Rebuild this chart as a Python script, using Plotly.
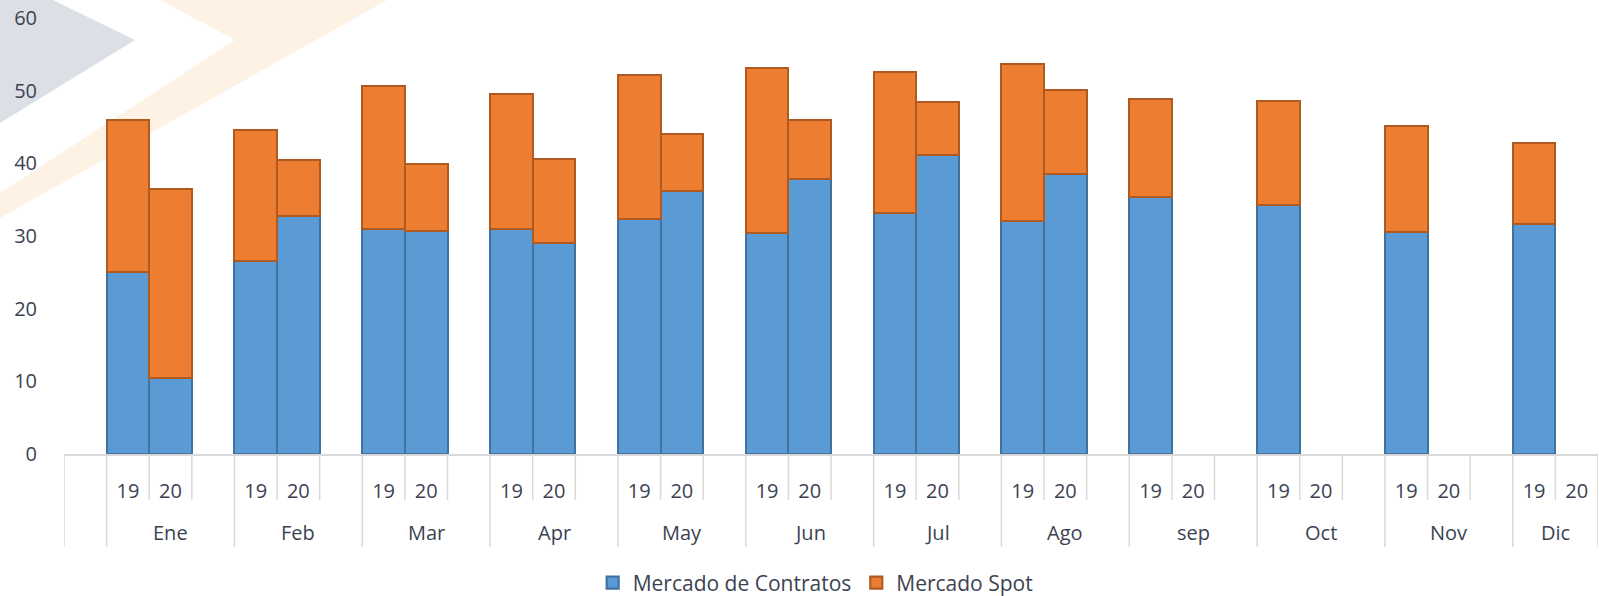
import plotly.graph_objects as go

months = ["Ene", "Feb", "Mar", "Apr", "May", "Jun", "Jul", "Ago", "sep", "Oct", "Nov", "Dic"]
years = ["19", "20"]
# totals and contract-market values (None = no data)
contratos_19 = [25.1, 26.5, 30.9, 31.0, 32.4, 30.4, 33.2, 32.1, 35.4, 34.3, 30.6, 31.6]
total_19 = [45.9, 44.6, 50.6, 49.5, 52.2, 53.1, 52.6, 53.7, 48.8, 48.6, 45.1, 42.8]
contratos_20 = [10.5, 32.7, 30.7, 29.1, 36.2, 37.9, 41.2, 38.5, None, None, None, None]
total_20 = [36.5, 40.5, 39.9, 40.6, 44.0, 45.9, 48.5, 50.1, None, None, None, None]
y_ticks = [0, 10, 20, 30, 40, 50, 60]

BLUE, BLUE_LINE = "#5B9BD5", "#41719C"
ORANGE, ORANGE_LINE = "#ED7D31", "#AE5A21"
TXT = "#3b4353"
GRID = "#d9d9d9"
FONT = "Open Sans"

# slot layout: slot 0 blank, then each month = [19, 20, blank]
xs, cont, spot, tickvals, ticktext = [], [], [], [], []
for m, mon in enumerate(months):
    for k, (c, t) in enumerate([(contratos_19[m], total_19[m]), (contratos_20[m], total_20[m])]):
        pos = 1 + 3 * m + k
        tickvals.append(pos)
        ticktext.append(years[k])
        xs.append(pos)
        cont.append(c)
        spot.append(None if t is None else round(t - c, 2))

fig = go.Figure()
fig.add_trace(go.Bar(x=xs, y=cont, name="Mercado de Contratos", width=1,
                     marker=dict(color=BLUE, line=dict(color=BLUE_LINE, width=2.2))))
fig.add_trace(go.Bar(x=xs, y=spot, name="Mercado Spot", width=1,
                     marker=dict(color=ORANGE, line=dict(color=ORANGE_LINE, width=2.2))))

n_slots = 3 * len(months)  # 36 slots: -0.5 .. 35.5
x_lo, x_hi = -0.5, n_slots - 0.5

# figure geometry (pixels) for decorations
W, H = 1599, 596
ml, mr, mt, mb = 64, 1, 18, 142
pw, ph = W - ml - mr, H - mt - mb

def px2paper(px, py):
    return (px - ml) / pw, (H - mb - py) / ph

def path(points):
    pts = [px2paper(x, y) for x, y in points]
    return "M " + " L ".join(f"{a:.4f},{b:.4f}" for a, b in pts) + " Z"

shapes = []
# watermark chevrons
shapes.append(dict(type="path", xref="paper", yref="paper", layer="below",
                   path=path([(0, 0), (53, 0), (135, 40), (0, 123)]),
                   fillcolor="rgba(214,218,226,0.85)", line=dict(width=0)))
shapes.append(dict(type="path", xref="paper", yref="paper", layer="below",
                   path=path([(160, 0), (387, 0), (0, 218), (0, 193), (235, 40)]),
                   fillcolor="rgba(252,232,205,0.55)", line=dict(width=0)))

y_short = -(500 - (H - mb)) / ph
y_full = -(547 - (H - mb)) / ph
# category separators
full_lines = [x_lo] + [0.5 + 3 * m for m in range(len(months))] + [x_hi]
short_lines = []
for m in range(len(months)):
    for off in (1.5, 2.5):
        v = off + 3 * m
        if v < x_hi:
            short_lines.append(v)
for v in full_lines:
    shapes.append(dict(type="line", xref="x", yref="paper", x0=v, x1=v, y0=0, y1=y_full,
                       line=dict(color=GRID, width=1.5)))
for v in short_lines:
    shapes.append(dict(type="line", xref="x", yref="paper", x0=v, x1=v, y0=0, y1=y_short,
                       line=dict(color=GRID, width=1.5)))

annotations = []
y_month = -(532 - (H - mb)) / ph
for m, mon in enumerate(months):
    center = 2 + 3 * m
    if m == len(months) - 1:
        center = (0.5 + 3 * m + x_hi) / 2
    annotations.append(dict(x=center, y=y_month, xref="x", yref="paper", text=mon,
                            showarrow=False, yanchor="middle",
                            font=dict(family=FONT, size=20, color=TXT)))

fig.update_layout(
    width=W, height=H,
    margin=dict(l=ml, r=mr, t=mt, b=mb, autoexpand=False),
    barmode="stack", bargap=0,
    plot_bgcolor="white", paper_bgcolor="white",
    font=dict(family=FONT, size=20, color=TXT),
    shapes=shapes, annotations=annotations,
    showlegend=True,
    legend=dict(orientation="h", x=0.49, xanchor="center", y=-0.296, yanchor="middle",
                font=dict(family=FONT, size=21, color=TXT), itemwidth=30,
                traceorder="normal", tracegroupgap=0),
    xaxis=dict(range=[x_lo, x_hi], tickmode="array", tickvals=tickvals, ticktext=ticktext,
               showgrid=False, zeroline=False, showline=True, linecolor=GRID, linewidth=1.5,
               ticks="", ticklabelstandoff=18, automargin=False,
               tickfont=dict(family=FONT, size=20, color=TXT)),
    yaxis=dict(range=[0, 60], tickmode="array", tickvals=y_ticks, showgrid=False,
               zeroline=False, showline=False, ticks="", ticklabelstandoff=26, automargin=False,
               tickfont=dict(family=FONT, size=20, color=TXT)),
)

fig.write_html("out.html", config={"displayModeBar": False},
               post_script="document.body.style.margin='0';document.body.style.overflow='hidden';")
